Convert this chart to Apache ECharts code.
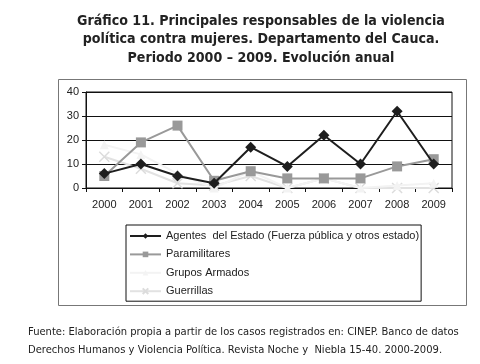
<!DOCTYPE html>
<html><head><meta charset="utf-8">
<script src="https://cdn.jsdelivr.net/npm/echarts@6/dist/echarts.min.js"></script>
<style>html,body{margin:0;padding:0;background:#fff}#c{width:480px;height:364px}</style>
</head><body><div id="c"></div>
<script>
const years = ['2000','2001','2002','2003','2004','2005','2006','2007','2008','2009'];
const agentes = [6, 10, 5, 2, 17, 9, 22, 10, 32, 10];
const paramilitares = [5, 19, 26, 3, 7, 4, 4, 4, 9, 12];
const gruposArmados = [18, 14, 6, 0, 7, 0, 4, 0, 1, 2];
const guerrillas = [13, 8, 2, 1, 5, 0, 4, 0, 0, 0];
const yTicks = [0, 10, 20, 30, 40];
const titleText = 'Gráfico 11. Principales responsables de la violencia\npolítica contra mujeres. Departamento del Cauca.\nPeriodo 2000 – 2009. Evolución anual';
const sourceText = 'Fuente: Elaboración propia a partir de los casos registrados en: CINEP. Banco de datos\nDerechos Humanos y Violencia Política. Revista Noche y  Niebla 15-40. 2000-2009.';

const chart = echarts.init(document.getElementById('c'), null, {renderer:'canvas'});
const axisFont = {fontFamily:'Liberation Sans, Arial, sans-serif', fontSize:11, color:'#222'};
chart.setOption({
  animation:false,
  backgroundColor:'#fff',
  title:{
    text:titleText, left:256, top:7, textAlign:'center',
    textStyle:{fontFamily:'DejaVu Sans Condensed, DejaVu Sans, sans-serif', fontWeight:'bold', fontSize:14.1, lineHeight:18.5, color:'#222'}
  },
  graphic:[
    {type:'rect', shape:{x:58.5, y:79.5, width:408, height:226}, style:{fill:'none', stroke:'#777', lineWidth:1}, z:-1},
    {type:'text', left:28, top:323, style:{text:sourceText, font:'11.1px "DejaVu Sans Condensed", "DejaVu Sans", sans-serif', fill:'#222', lineHeight:18}}
  ],
  grid:{left:86, right:28, top:92, bottom:176, show:true, borderColor:'#111', borderWidth:1, backgroundColor:'#fff'},
  legend:{
    orient:'vertical', left:126, top:225, padding:[4,2,3,3], itemGap:4.4, itemWidth:31, itemHeight:7,
    borderColor:'#111', borderWidth:1,
    textStyle:{fontFamily:'Liberation Sans, Arial, sans-serif', fontSize:11, lineHeight:14, color:'#222'},
    data:['Agentes  del Estado (Fuerza pública y otros estado)','Paramilitares','Grupos Armados','Guerrillas']
  },
  xAxis:{
    type:'category', data:years, boundaryGap:true,
    axisLine:{lineStyle:{color:'#111'}},
    axisTick:{show:true, length:4, inside:false, lineStyle:{color:'#111'}},
    axisLabel:Object.assign({margin:11}, axisFont),
    splitLine:{show:false}
  },
  yAxis:{
    type:'value', min:0, max:40, interval:10,
    axisLine:{show:true, lineStyle:{color:'#111'}},
    axisTick:{show:true, length:4, lineStyle:{color:'#111'}},
    axisLabel:Object.assign({margin:7, formatter:v=>yTicks.includes(v)?String(v):''}, axisFont),
    splitLine:{show:true, lineStyle:{color:'#111', width:1}}
  },
  series:[
    {name:'Guerrillas', type:'line', data:guerrillas, symbol:'path://M0,0L10,10M10,0L0,10', symbolSize:10,
     lineStyle:{color:'#e2e2e2', width:2}, itemStyle:{color:'#e2e2e2', borderColor:'#dcdcdc', borderWidth:1.5}, z:2},
    {name:'Grupos Armados', type:'line', data:gruposArmados, symbol:'triangle', symbolSize:9,
     lineStyle:{color:'#f3f3f3', width:2}, itemStyle:{color:'#f3f3f3'}, z:3},
    {name:'Paramilitares', type:'line', data:paramilitares, symbol:'rect', symbolSize:10,
     lineStyle:{color:'#999', width:2}, itemStyle:{color:'#999'}, z:4},
    {name:'Agentes  del Estado (Fuerza pública y otros estado)', type:'line', data:agentes, symbol:'diamond', symbolSize:11,
     lineStyle:{color:'#1e1e1e', width:2}, itemStyle:{color:'#1e1e1e'}, z:5}
  ]
});
</script></body></html>
